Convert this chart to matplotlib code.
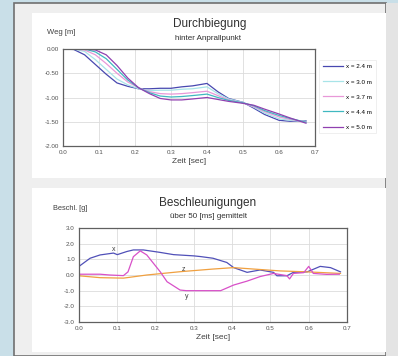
import matplotlib
matplotlib.use("Agg")
import matplotlib.pyplot as plt
from matplotlib.patches import Rectangle

plt.rcParams['font.family'] = ['Liberation Sans', 'DejaVu Sans']

W, H = 398, 356

# --- Durchbiegung (deflection) data ---
t_weg = [0, 0.03, 0.06, 0.09, 0.12, 0.15, 0.18, 0.21, 0.24, 0.27, 0.30,
         0.33, 0.36, 0.40, 0.43, 0.46, 0.50, 0.53, 0.56, 0.60, 0.63, 0.675]
weg_24 = [0, -0.01, -0.12, -0.32, -0.52, -0.70, -0.77, -0.82, -0.82, -0.81, -0.81,
          -0.78, -0.76, -0.71, -0.88, -1.02, -1.10, -1.22, -1.35, -1.47, -1.49, -1.48]
weg_30 = [0, 0, -0.05, -0.22, -0.42, -0.62, -0.74, -0.82, -0.86, -0.85, -0.85,
          -0.83, -0.82, -0.78, -0.92, -1.03, -1.10, -1.20, -1.32, -1.44, -1.47, -1.49]
weg_37 = [0, 0, -0.02, -0.12, -0.30, -0.50, -0.68, -0.80, -0.88, -0.92, -0.93,
          -0.92, -0.90, -0.87, -0.96, -1.05, -1.11, -1.19, -1.29, -1.40, -1.45, -1.50]
weg_44 = [0, 0, 0, -0.06, -0.20, -0.42, -0.64, -0.80, -0.90, -0.97, -0.99,
          -0.98, -0.96, -0.93, -1.00, -1.06, -1.11, -1.17, -1.27, -1.37, -1.43, -1.51]
weg_50 = [0, 0, 0, -0.02, -0.12, -0.34, -0.60, -0.80, -0.92, -1.02, -1.05,
          -1.05, -1.03, -1.00, -1.04, -1.08, -1.12, -1.16, -1.24, -1.34, -1.42, -1.53]
weg_labels = ["x = 2.4 m", "x = 3.0 m", "x = 3.7 m", "x = 4.4 m", "x = 5.0 m"]
weg_colors = ["#4848b0", "#a8e4e8", "#e898d8", "#40b8c0", "#9040b0"]

# --- Beschleunigungen (acceleration) data ---
t_acc_x = [0, 0.029, 0.055, 0.09, 0.10, 0.125, 0.142, 0.168, 0.21, 0.247, 0.30,
           0.316, 0.35, 0.386, 0.404, 0.439, 0.473, 0.508, 0.517, 0.543, 0.56,
           0.596, 0.63, 0.657, 0.683]
acc_x = [0.55, 1.07, 1.28, 1.40, 1.30, 1.50, 1.60, 1.60, 1.45, 1.30, 1.22,
         1.18, 1.07, 0.80, 0.47, 0.17, 0.32, 0.17, -0.05, -0.05, 0.17,
         0.20, 0.55, 0.47, 0.20]
t_acc_y = [0, 0.055, 0.08, 0.116, 0.128, 0.142, 0.16, 0.177, 0.212, 0.23, 0.264,
           0.28, 0.37, 0.404, 0.439, 0.473, 0.508, 0.543, 0.55, 0.56, 0.587,
           0.60, 0.612, 0.647, 0.68]
acc_y = [0.05, 0.05, 0.0, -0.04, 0.20, 1.17, 1.54, 1.28, 0.21, -0.43, -0.96,
         -1.0, -1.0, -0.64, -0.39, -0.10, 0.10, -0.04, -0.25, 0.10, 0.15,
         0.55, 0.10, 0.04, 0.05]
t_acc_z = [0, 0.055, 0.116, 0.177, 0.264, 0.35, 0.404, 0.456, 0.526, 0.596, 0.683]
acc_z = [-0.05, -0.17, -0.20, 0.0, 0.21, 0.38, 0.47, 0.38, 0.26, 0.20, 0.10]

x_ticks = [0.0, 0.1, 0.2, 0.3, 0.4, 0.5, 0.6, 0.7]


def px_axes(fig, left, top, right, bottom):
    return fig.add_axes([left / W, 1 - bottom / H, (right - left) / W, (bottom - top) / H])


def style_axes(ax):
    for s in ax.spines.values():
        s.set_color("#606060")
        s.set_linewidth(0.9)
    ax.grid(True, color="#dcdcdc", linewidth=0.6)
    ax.set_axisbelow(True)
    ax.tick_params(labelsize=4.5, length=0, pad=3, colors="#505050")
    ax.set_xlim(0, 0.7)
    ax.set_xticks(x_ticks)
    ax.set_xticklabels([f"{v:.1f}" for v in x_ticks])


def bg_rect(x0, y0, x1, y1, **kw):
    # rectangle given in pixel coords (top-left origin), drawn behind the axes
    fig.patches.append(Rectangle((x0 / W, 1 - y1 / H), (x1 - x0) / W, (y1 - y0) / H,
                                 transform=fig.transFigure, zorder=-5, **kw))


fig = plt.figure(figsize=(W / 100, H / 100), dpi=100)
fig.patch.set_facecolor("#c9dfe8")

# background panels
bg_rect(14, 3, 386, 356, facecolor="#efefef", edgecolor="#707070", linewidth=1.2)
bg_rect(386, 3, 398, 356, facecolor="#e4e4e4", edgecolor="none")
bg_rect(32, 13, 386, 178, facecolor="white", edgecolor="none")
bg_rect(32, 188, 386, 352, facecolor="white", edgecolor="none")

# top chart
ax1 = px_axes(fig, 63, 49, 315, 146)
style_axes(ax1)
for vals, lab, col in zip([weg_24, weg_30, weg_37, weg_44, weg_50], weg_labels, weg_colors):
    ax1.plot(t_weg, vals, color=col, linewidth=0.9, label=lab)
ax1.set_ylim(-2.0, 0.0)
ax1.set_yticks([0.0, -0.5, -1.0, -1.5, -2.0])
ax1.set_yticklabels(["0.00", "-0.50", "-1.00", "-1.50", "-2.00"])
ax1.set_xlabel("Zeit [sec]", fontsize=6, labelpad=2, color="#404040")
leg = ax1.legend(loc="upper left", bbox_to_anchor=(1.005, 0.915), fontsize=4.5, frameon=True,
                 handlelength=3.2, handletextpad=0.5, labelspacing=1.55, borderpad=0.6,
                 fancybox=False)
leg.get_frame().set_edgecolor("#e8e8e8")
leg.get_frame().set_linewidth(0.6)
fig.text(210 / W, 1 - 24 / H, "Durchbiegung", ha="center", va="center", fontsize=8.5, color="#303030")
fig.text(208 / W, 1 - 38 / H, "hinter Anprallpunkt", ha="center", va="center", fontsize=5.8, color="#303030")
fig.text(47 / W, 1 - 32 / H, "Weg [m]", ha="left", va="center", fontsize=5.5, color="#404040")

# bottom chart
ax2 = px_axes(fig, 79, 228, 347, 322)
style_axes(ax2)
ax2.plot(t_acc_x, acc_x, color="#5050b8", linewidth=0.9)
ax2.plot(t_acc_z, acc_z, color="#f0a040", linewidth=0.9)
ax2.plot(t_acc_y, acc_y, color="#d850c8", linewidth=0.9)
ax2.set_ylim(-3.0, 3.0)
ax2.set_yticks([3.0, 2.0, 1.0, 0.0, -1.0, -2.0, -3.0])
ax2.set_yticklabels(["3.0", "2.0", "1.0", "0.0", "-1.0", "-2.0", "-3.0"])
ax2.set_xlabel("Zeit [sec]", fontsize=6, labelpad=2, color="#404040")
ax2.text(0.09, 1.6, "x", fontsize=5, color="#404040", ha="center", va="center")
ax2.text(0.273, 0.35, "z", fontsize=5, color="#404040", ha="center", va="center")
ax2.text(0.282, -1.35, "y", fontsize=5, color="#404040", ha="center", va="center")
fig.text(208 / W, 1 - 203 / H, "Beschleunigungen", ha="center", va="center", fontsize=8.5, color="#303030")
fig.text(208 / W, 1 - 217 / H, "über 50 [ms] gemittelt", ha="center", va="center", fontsize=5.8, color="#303030")
fig.text(53 / W, 1 - 208 / H, "Beschl. [g]", ha="left", va="center", fontsize=5.3, color="#404040")

fig.savefig("out.png", dpi=100, facecolor=fig.get_facecolor())
